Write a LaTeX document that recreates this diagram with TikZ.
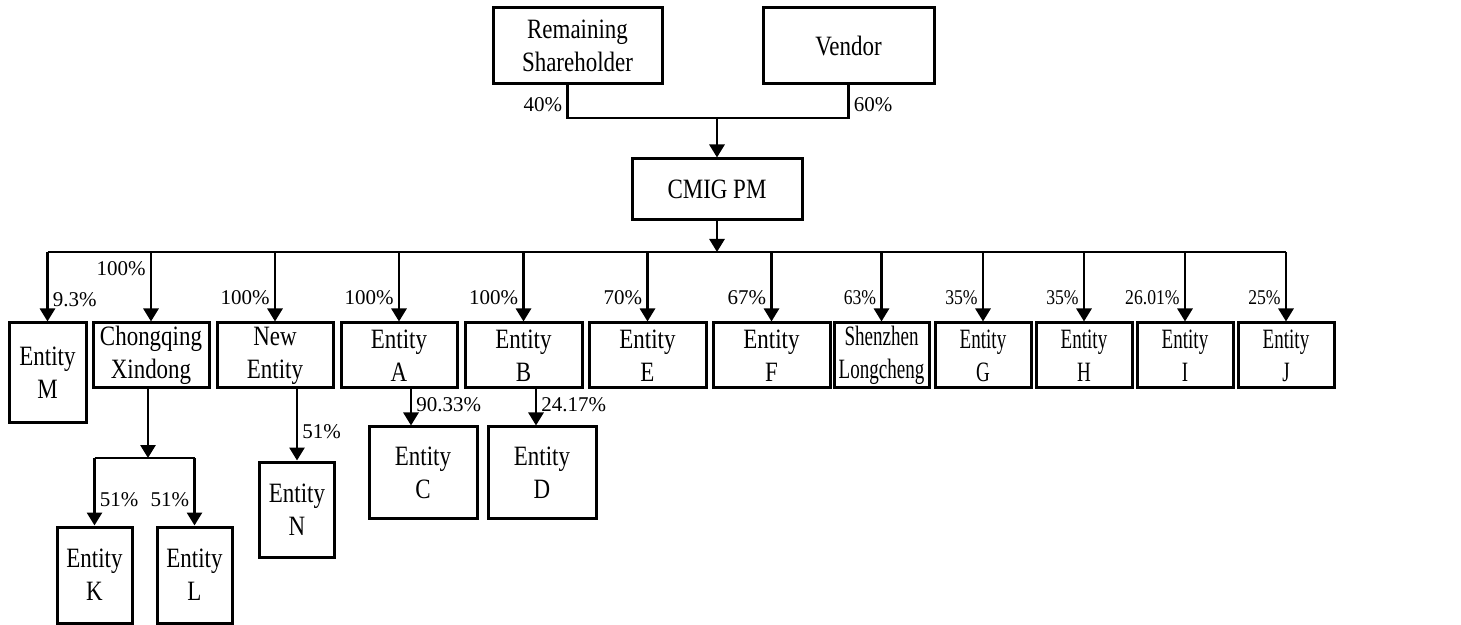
\documentclass[tikz,border=0pt]{standalone}
\usepackage{fontspec}
\setmainfont{Liberation Serif}
\newfontfamily\boxfont[FakeStretch=0.82]{Liberation Serif}
\newfontfamily\slimfont[FakeStretch=0.68]{Liberation Serif}
\newfontfamily\pctslim[FakeStretch=0.84]{Liberation Serif}
\usetikzlibrary{arrows.meta, calc}

\tikzset{
  ent/.style={draw, line width=1.5pt, align=center, inner sep=0pt,
    minimum width=58pt, minimum height=32.5pt,
    font=\boxfont\fontsize{14}{16.5}\selectfont},
  slim/.style={ent, minimum width=48pt, font=\slimfont\fontsize{14}{16.5}\selectfont},
  pct/.style={inner sep=2pt, font=\fontsize{10.5}{12}\selectfont},
  pctn/.style={pct, font=\pctslim\fontsize{10.5}{12}\selectfont},
}

\begin{document}
\begin{tikzpicture}[x=0.5pt, y=-0.5pt, line width=1.4pt, >={Triangle[length=6.5pt, width=7.5pt]}]
  \useasboundingbox (0,0) rectangle (1461,625);

  % Owners and CMIG PM
  \node[ent, minimum width=84.5pt, minimum height=38pt] (rem) at (577.5,46) {Remaining\\Shareholder};
  \node[ent, minimum width=85.5pt, minimum height=38pt] (vendor) at (848.5,46) {Vendor};
  \node[ent, minimum width=85pt, minimum height=30.5pt] (cmig) at (717,189.5) {CMIG PM};

  \coordinate (topbar) at (717,118);
  \draw ([xshift=-5pt]rem.south) |- node[pct, left, pos=0.29] {40\%} (topbar)
    -| node[pct, right, pos=0.71] {60\%} (vendor.south);
  \draw[->] (topbar) -- (cmig.north);

  % Direct holdings
  \node[ent, minimum width=38.5pt, minimum height=50pt] (entM) at (47.5,373) {Entity\\M};
  \node[ent] (chq) at (151,355.5) {Chongqing\\Xindong};
  \node[ent] (newent) at (275,355.5) {New\\Entity};
  \node[ent] (entA) at (399,355.5) {Entity\\A};
  \node[ent, minimum width=58.5pt] (entB) at (523.5,355.5) {Entity\\B};
  \node[ent, minimum width=58.5pt] (entE) at (647.5,355.5) {Entity\\E};
  \node[ent, minimum width=58.5pt] (entF) at (771.5,355.5) {Entity\\F};
  \node[slim, minimum width=47.5pt] (shz) at (881.5,355.5) {Shenzhen\\Longcheng};
  \node[slim] (entG) at (983,355.5) {Entity\\G};
  \node[slim] (entH) at (1084,355.5) {Entity\\H};
  \node[slim] (entI) at (1185,355.5) {Entity\\I};
  \node[slim] (entJ) at (1286,355.5) {Entity\\J};

  \coordinate (bus) at (717,252);
  \draw[->] (cmig.south) -- (bus);
  \draw (entM.north |- bus) -- (entJ.north |- bus);
  \foreach \n/\p/\s/\q/\f in {entM/9.3/right/0.68/pct, chq/100/left/0.24/pct,
      newent/100/left/0.65/pct, entA/100/left/0.65/pct, entB/100/left/0.65/pct,
      entE/70/left/0.65/pct, entF/67/left/0.65/pct, shz/63/left/0.65/pctn,
      entG/35/left/0.65/pctn, entH/35/left/0.65/pctn, entI/26.01/left/0.65/pctn,
      entJ/25/left/0.65/pctn}
    \draw[->] (\n.north |- bus) -- node[\f, \s, pos=\q] {\p\%} (\n.north);

  % Second level
  \node[ent, minimum width=54pt, minimum height=45.5pt] (entC) at (423,472.5) {Entity\\C};
  \node[ent, minimum width=54pt, minimum height=45.5pt] (entD) at (542,472.5) {Entity\\D};
  \node[ent, minimum width=37.5pt, minimum height=47.5pt] (entN) at (297,509.5) {Entity\\N};
  \node[ent, minimum width=37.5pt, minimum height=48pt] (entK) at (94.5,575) {Entity\\K};
  \node[ent, minimum width=37.5pt, minimum height=48pt] (entL) at (194.5,575) {Entity\\L};

  \draw[->] ([xshift=6pt]entA.south) -- node[pct, right, pos=0.41] {90.33\%} ([xshift=6pt]entA.south |- entC.north);
  \draw[->] ([xshift=6.25pt]entB.south) -- node[pct, right, pos=0.41] {24.17\%} ([xshift=6.25pt]entB.south |- entD.north);
  \draw[->] (newent.south -| entN.north) -- node[pct, right, pos=0.6] {51\%} (entN.north);

  \coordinate (kl) at (148,458);
  \draw[->] ([xshift=-1.5pt]chq.south) -- (kl);
  \draw (entK.north |- kl) -- (entL.north |- kl);
  \draw[->] (entK.north |- kl) -- node[pct, right, pos=0.61] {51\%} (entK.north);
  \draw[->] (entL.north |- kl) -- node[pct, left, pos=0.61] {51\%} (entL.north);
\end{tikzpicture}
\end{document}
